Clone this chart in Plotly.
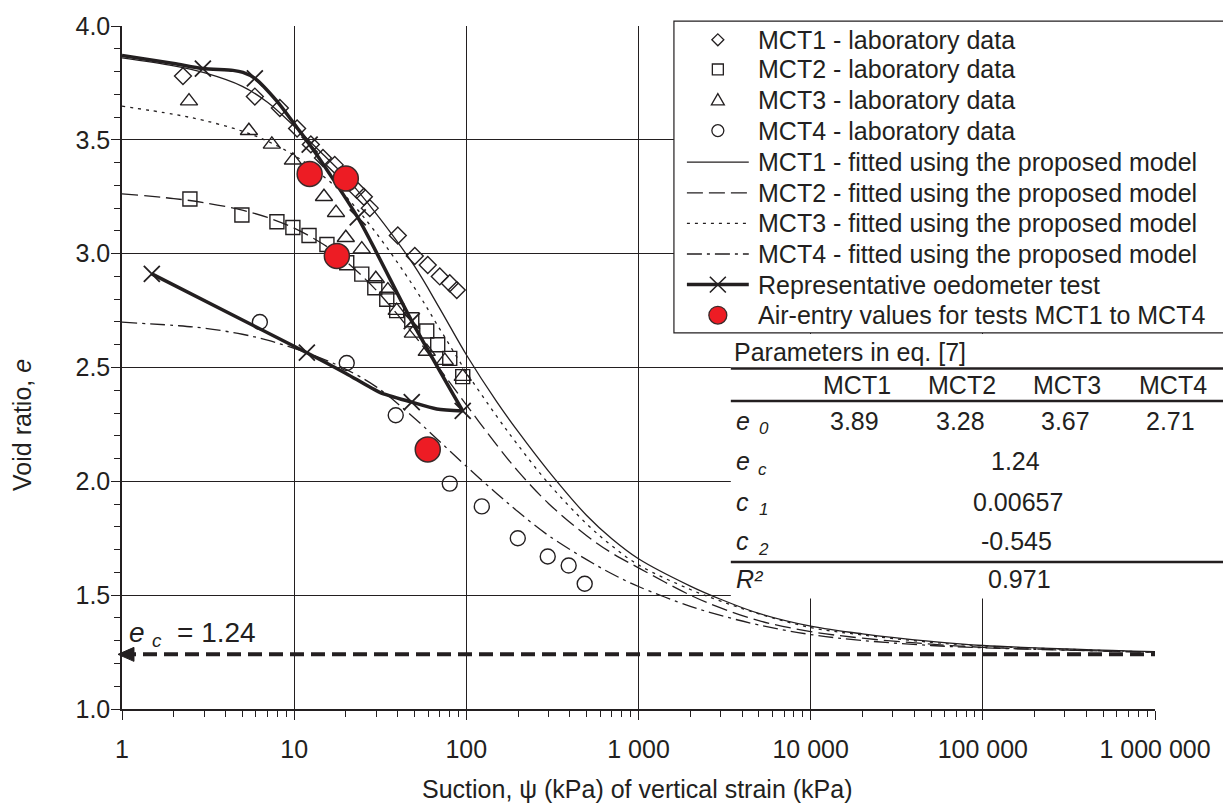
import plotly.graph_objects as go

INK = "#231f20"
RED = "#ed1c24"
FONT = "Liberation Sans, Arial, Helvetica, sans-serif"
FS = 25
FS_SUB = 17

# ---------------- laboratory data (suction in kPa, void ratio) ----------------
mct1_psi = [2.26, 5.91, 8.26, 10.4, 12.5, 14.7, 17.2, 23.1, 25.4, 27.5, 40.0, 50.2, 59.7, 70.1, 80.1, 88.0]
mct1_e = [3.78, 3.69, 3.64, 3.55, 3.48, 3.42, 3.39, 3.28, 3.25, 3.20, 3.08, 2.99, 2.95, 2.90, 2.87, 2.84]

mct2_psi = [2.48, 4.97, 7.94, 9.83, 12.2, 15.5, 20.2, 24.7, 29.4, 34.5, 39.4, 48.2, 58.9, 68.2, 80.1, 95.3]
mct2_e = [3.24, 3.17, 3.14, 3.115, 3.08, 3.04, 2.96, 2.91, 2.85, 2.80, 2.75, 2.71, 2.66, 2.60, 2.54, 2.46]

mct3_psi = [2.45, 5.46, 7.42, 9.83, 14.9, 17.5, 19.95, 24.7, 29.8, 35.0, 39.4, 48.9, 58.9, 75.0, 95.3]
mct3_e = [3.67, 3.54, 3.48, 3.41, 3.25, 3.18, 3.07, 3.02, 2.89, 2.84, 2.75, 2.65, 2.57, 2.53, 2.46]

mct4_psi = [6.32, 20.2, 38.9, 80.1, 123, 199, 297, 393, 487]
mct4_e = [2.70, 2.52, 2.29, 1.99, 1.89, 1.75, 1.67, 1.63, 1.55]

# air-entry values
aev_psi = [12.3, 19.95, 17.7, 59.7]
aev_e = [3.35, 3.33, 2.99, 2.14]

# ---------------- fitted curves ----------------
fit_psi = [1, 2, 3, 5, 7, 10, 15, 20, 30, 50, 70, 100, 150, 200, 300, 500, 700,
           1000, 2000, 3000, 5000, 1e4, 2e4, 5e4, 1e5, 1e6]
fit1_e = [3.860, 3.825, 3.795, 3.735, 3.665, 3.560, 3.430, 3.335, 3.175, 2.945, 2.760, 2.556, 2.350,
          2.218, 2.045, 1.850, 1.748, 1.660, 1.540, 1.482, 1.420, 1.364, 1.330, 1.297, 1.279, 1.252]
fit2_e = [3.263, 3.242, 3.224, 3.191, 3.159, 3.112, 3.038, 2.966, 2.839, 2.640, 2.494, 2.336, 2.160,
          2.044, 1.903, 1.761, 1.685, 1.620, 1.500, 1.444, 1.388, 1.340, 1.311, 1.285, 1.271, 1.249]
fit3_e = [3.648, 3.612, 3.585, 3.538, 3.494, 3.432, 3.336, 3.250, 3.090, 2.850, 2.670, 2.480, 2.286,
          2.158, 1.991, 1.813, 1.717, 1.633, 1.525, 1.474, 1.418, 1.358, 1.325, 1.293, 1.277, 1.250]
fit4_e = [2.699, 2.685, 2.673, 2.646, 2.620, 2.584, 2.535, 2.492, 2.415, 2.277, 2.175, 2.066, 1.947,
          1.866, 1.762, 1.656, 1.594, 1.538, 1.451, 1.411, 1.369, 1.327, 1.301, 1.279, 1.269, 1.249]

# ---------------- representative oedometer test ----------------
oed_load_p = [1, 2, 2.95, 4.41, 5.04, 5.91, 7.94, 10.4, 12.3, 23.4, 48.2, 95.3]
oed_load_e = [3.87, 3.835, 3.813, 3.805, 3.796, 3.770, 3.670, 3.553, 3.479, 3.159, 2.704, 2.309]
oed_unload_p = [95.3, 67.3, 48.2, 31.4, 20.0, 11.85, 1.49]
oed_unload_e = [2.309, 2.318, 2.348, 2.391, 2.474, 2.565, 2.911]
oed_pts_p = [2.95, 5.91, 12.3, 23.4, 48.2, 95.3, 48.2, 11.85, 1.49]
oed_pts_e = [3.813, 3.770, 3.479, 3.159, 2.704, 2.309, 2.348, 2.565, 2.911]

# ---------------- model parameters ----------------
tests = ["MCT1", "MCT2", "MCT3", "MCT4"]
e0_vals = [3.89, 3.28, 3.67, 2.71]
EC = 1.24
C1 = 0.00657
C2 = -0.545
R2 = 0.971

x_tick_vals = [1, 10, 100, 1000, 10000, 100000, 1000000]
x_tick_text = ["1", "10", "100", "1 000", "10 000", "100 000", "1 000 000"]

# ---------------- page geometry ----------------
W, H = 1223, 805
ML, MR, MT, MB = 122, 66, 17, 96
PW, PH = W - ML - MR, H - MT - MB


def fx(p):
    return (p - ML) / PW


def fy(p):
    return (H - MB - p) / PH


fig = go.Figure()

DASH2 = "16px,6px"
DOT3 = "3px,5px"
DASHDOT4 = "15px,5px,3px,5px"

curve_styles = [
    (fit1_e, dict(color=INK, width=1.3)),
    (fit2_e, dict(color=INK, width=1.3, dash=DASH2)),
    (fit3_e, dict(color=INK, width=1.3, dash=DOT3)),
    (fit4_e, dict(color=INK, width=1.3, dash=DASHDOT4)),
]
for ys, ln in curve_styles:
    fig.add_trace(go.Scatter(x=fit_psi, y=ys, mode="lines",
                             line=dict(shape="spline", smoothing=1.0, **ln),
                             showlegend=False, hoverinfo="skip"))

# e_c asymptote
fig.add_trace(go.Scatter(x=[1, 1e6], y=[EC, EC], mode="lines",
                         line=dict(color=INK, width=4, dash="14px,7px"),
                         showlegend=False, hoverinfo="skip"))

# oedometer test
for xs, ys in [(oed_load_p, oed_load_e), (oed_unload_p, oed_unload_e)]:
    fig.add_trace(go.Scatter(x=xs, y=ys, mode="lines",
                             line=dict(color=INK, width=3.5, shape="spline", smoothing=0.7),
                             showlegend=False, hoverinfo="skip"))
fig.add_trace(go.Scatter(x=oed_pts_p, y=oed_pts_e, mode="markers",
                         marker=dict(symbol="x-thin", size=16, line=dict(width=1.8, color=INK)),
                         showlegend=False, hoverinfo="skip"))

lab_sets = [
    (mct1_psi, mct1_e, "diamond-open", 13),
    (mct2_psi, mct2_e, "square-open", 14),
    (mct3_psi, mct3_e, "triangle-up-open", 15),
    (mct4_psi, mct4_e, "circle-open", 15),
]
for xs, ys, sym, sz in lab_sets:
    fig.add_trace(go.Scatter(x=xs, y=ys, mode="markers",
                             marker=dict(symbol=sym, size=sz, color=INK, line=dict(width=1.4, color=INK)),
                             showlegend=False, hoverinfo="skip"))

fig.add_trace(go.Scatter(x=aev_psi, y=aev_e, mode="markers",
                         marker=dict(symbol="circle", size=25, color=RED, line=dict(width=1.5, color="#3a2a2a")),
                         showlegend=False, hoverinfo="skip"))

# ---------------- legend box and parameter table ----------------
NOLINE = dict(color="rgba(0,0,0,0)", width=0)
shapes = []
shapes.append(dict(type="rect", xref="paper", yref="paper", x0=fx(675), x1=fx(1250),
                   y0=fy(328), y1=fy(12), fillcolor="white", line=dict(color=INK, width=1.2), layer="above"))
shapes.append(dict(type="rect", xref="paper", yref="paper", x0=fx(732), x1=fx(1250),
                   y0=fy(597), y1=fy(329), fillcolor="white", line=NOLINE, layer="above"))
for yy in (364, 397, 560):
    shapes.append(dict(type="line", xref="paper", yref="paper", x0=fx(732), x1=fx(1250),
                       y0=fy(yy), y1=fy(yy), line=dict(color=INK, width=2.6), layer="above"))

# arrow head at the left end of the e_c line
shapes.append(dict(type="path", xref="paper", yref="y", ysizemode="pixel", yanchor=EC,
                   path=f"M {fx(118):.5f},0 L {fx(134):.5f},7 L {fx(134):.5f},-7 Z",
                   fillcolor=INK, line=dict(color=INK, width=1), layer="above"))

rows = [31, 61, 92, 123, 155, 186, 217, 248, 279, 310]
labels = ["MCT1 - laboratory data", "MCT2 - laboratory data", "MCT3 - laboratory data",
          "MCT4 - laboratory data", "MCT1 - fitted using the proposed model",
          "MCT2 - fitted using the proposed model", "MCT3 - fitted using the proposed model",
          "MCT4 - fitted using the proposed model", "Representative oedometer test",
          "Air-entry values for tests MCT1 to MCT4"]
CX = 719


def path_of(pts, close=True):
    s = "M " + " L ".join(f"{fx(a):.5f},{fy(b):.5f}" for a, b in pts)
    return s + (" Z" if close else "")


sym_line = dict(color=INK, width=1.3)
r = 6
cy = rows[0]
shapes.append(dict(type="path", xref="paper", yref="paper", layer="above", line=sym_line,
                   path=path_of([(CX, cy - r), (CX + r, cy), (CX, cy + r), (CX - r, cy)])))
cy = rows[1]
shapes.append(dict(type="rect", xref="paper", yref="paper", layer="above", line=sym_line,
                   x0=fx(CX - 5.5), x1=fx(CX + 5.5), y0=fy(cy + 5.5), y1=fy(cy - 5.5)))
cy = rows[2]
shapes.append(dict(type="path", xref="paper", yref="paper", layer="above", line=sym_line,
                   path=path_of([(CX, cy - 6.5), (CX + 6.5, cy + 5), (CX - 6.5, cy + 5)])))
cy = rows[3]
shapes.append(dict(type="circle", xref="paper", yref="paper", layer="above", line=sym_line,
                   x0=fx(CX - 6), x1=fx(CX + 6), y0=fy(cy + 6), y1=fy(cy - 6)))
for yy, dash in zip(rows[4:8], ["solid", DASH2, DOT3, DASHDOT4]):
    shapes.append(dict(type="line", xref="paper", yref="paper", layer="above",
                       x0=fx(688), x1=fx(750), y0=fy(yy), y1=fy(yy),
                       line=dict(color=INK, width=1.3, dash=dash)))
cy = rows[8]
shapes.append(dict(type="line", xref="paper", yref="paper", layer="above",
                   x0=fx(688), x1=fx(750), y0=fy(cy), y1=fy(cy), line=dict(color=INK, width=3.5)))
shapes.append(dict(type="path", xref="paper", yref="paper", layer="above", line=dict(color=INK, width=1.6),
                   path=path_of([(CX - 8, cy - 8), (CX + 8, cy + 8)], False) + " " +
                   path_of([(CX - 8, cy + 8), (CX + 8, cy - 8)], False)))
cy = rows[9]
shapes.append(dict(type="circle", xref="paper", yref="paper", layer="above", fillcolor=RED,
                   line=dict(color="#3a2a2a", width=1.3),
                   x0=fx(CX - 9), x1=fx(CX + 9), y0=fy(cy + 9), y1=fy(cy - 9)))

annotations = []


def txt(s, x, y, anchor="left", size=FS, **kw):
    annotations.append(dict(text=s, x=fx(x), y=fy(y), xref="paper", yref="paper",
                            xanchor=anchor, yanchor="middle", showarrow=False,
                            font=dict(family=FONT, size=size, color=INK), **kw))


def symbol_with_sub(base, sub, x, y, sub_dx):
    # italic symbol followed by a smaller, lowered italic index
    txt(f"<i>{base}</i>", x, y)
    txt(f"<i>{sub}</i>", x + sub_dx, y + 8, size=FS_SUB)


for yy, lab in zip(rows, labels):
    txt(lab, 757, yy)

# parameter table
txt("Parameters in eq. [7]", 733, 347)
col_x = [858, 964, 1069, 1175]
for cxp, name in zip(col_x, tests):
    txt(name, cxp, 381, "center")
symbol_with_sub("e", "0", 735, 417, 23)
for cxp, v in zip(col_x, e0_vals):
    txt(f"{v:.2f}", cxp - 2, 417, "center")
symbol_with_sub("e", "c", 735, 458, 22)
txt(f"{EC:.2f}", 1017, 458, "center")
symbol_with_sub("c", "1", 735, 499, 23)
txt(f"{C1}", 1020, 499, "center")
symbol_with_sub("c", "2", 735, 539, 22)
txt(f"{C2}", 1018, 539, "center")
txt("<i>R²</i>", 735, 577)
txt(f"{R2}", 1021, 577, "center")

# axis titles
txt("Suction, ψ (kPa) of vertical strain (kPa)", 638, 790, "center")
txt("Void ratio, <i>e</i>", 22, 421, "center", textangle=-90)

# e_c label
txt("<i>e</i>", 127, 631, size=28)
txt("<i>c</i>", 150, 640, size=19)
txt(f"= {EC:.2f}", 258, 631, "right", size=28)

fig.update_layout(
    width=W, height=H,
    margin=dict(l=ML, r=MR, t=MT, b=MB),
    paper_bgcolor="white", plot_bgcolor="white",
    font=dict(family=FONT, size=FS, color=INK),
    showlegend=False,
    shapes=shapes,
    annotations=annotations,
)

fig.update_xaxes(
    type="log", range=[0, 6],
    tickmode="array", tickvals=x_tick_vals, ticktext=x_tick_text,
    ticks="outside", ticklen=9, tickwidth=1.3, tickcolor=INK,
    ticklabelstandoff=8,
    showgrid=True, gridcolor=INK, gridwidth=1,
    showline=True, linecolor=INK, linewidth=1.5,
    zeroline=False,
    tickfont=dict(family=FONT, size=FS, color=INK),
    minor=dict(tickmode="array",
               tickvals=[m * 10 ** k for k in range(6) for m in range(2, 10)],
               ticks="outside", ticklen=6, tickwidth=1, tickcolor=INK, showgrid=False),
)
fig.update_yaxes(
    range=[1, 4], tickmode="linear", tick0=1, dtick=0.5, tickformat=".1f",
    ticks="outside", ticklen=9, tickwidth=1.3, tickcolor=INK,
    ticklabelstandoff=-4,
    showgrid=True, gridcolor=INK, gridwidth=1,
    showline=True, linecolor=INK, linewidth=1.5,
    zeroline=False,
    tickfont=dict(family=FONT, size=FS, color=INK),
    minor=dict(dtick=0.1, ticks="outside", ticklen=6, tickwidth=1, tickcolor=INK, showgrid=False),
)

fig.write_html("out.html")
